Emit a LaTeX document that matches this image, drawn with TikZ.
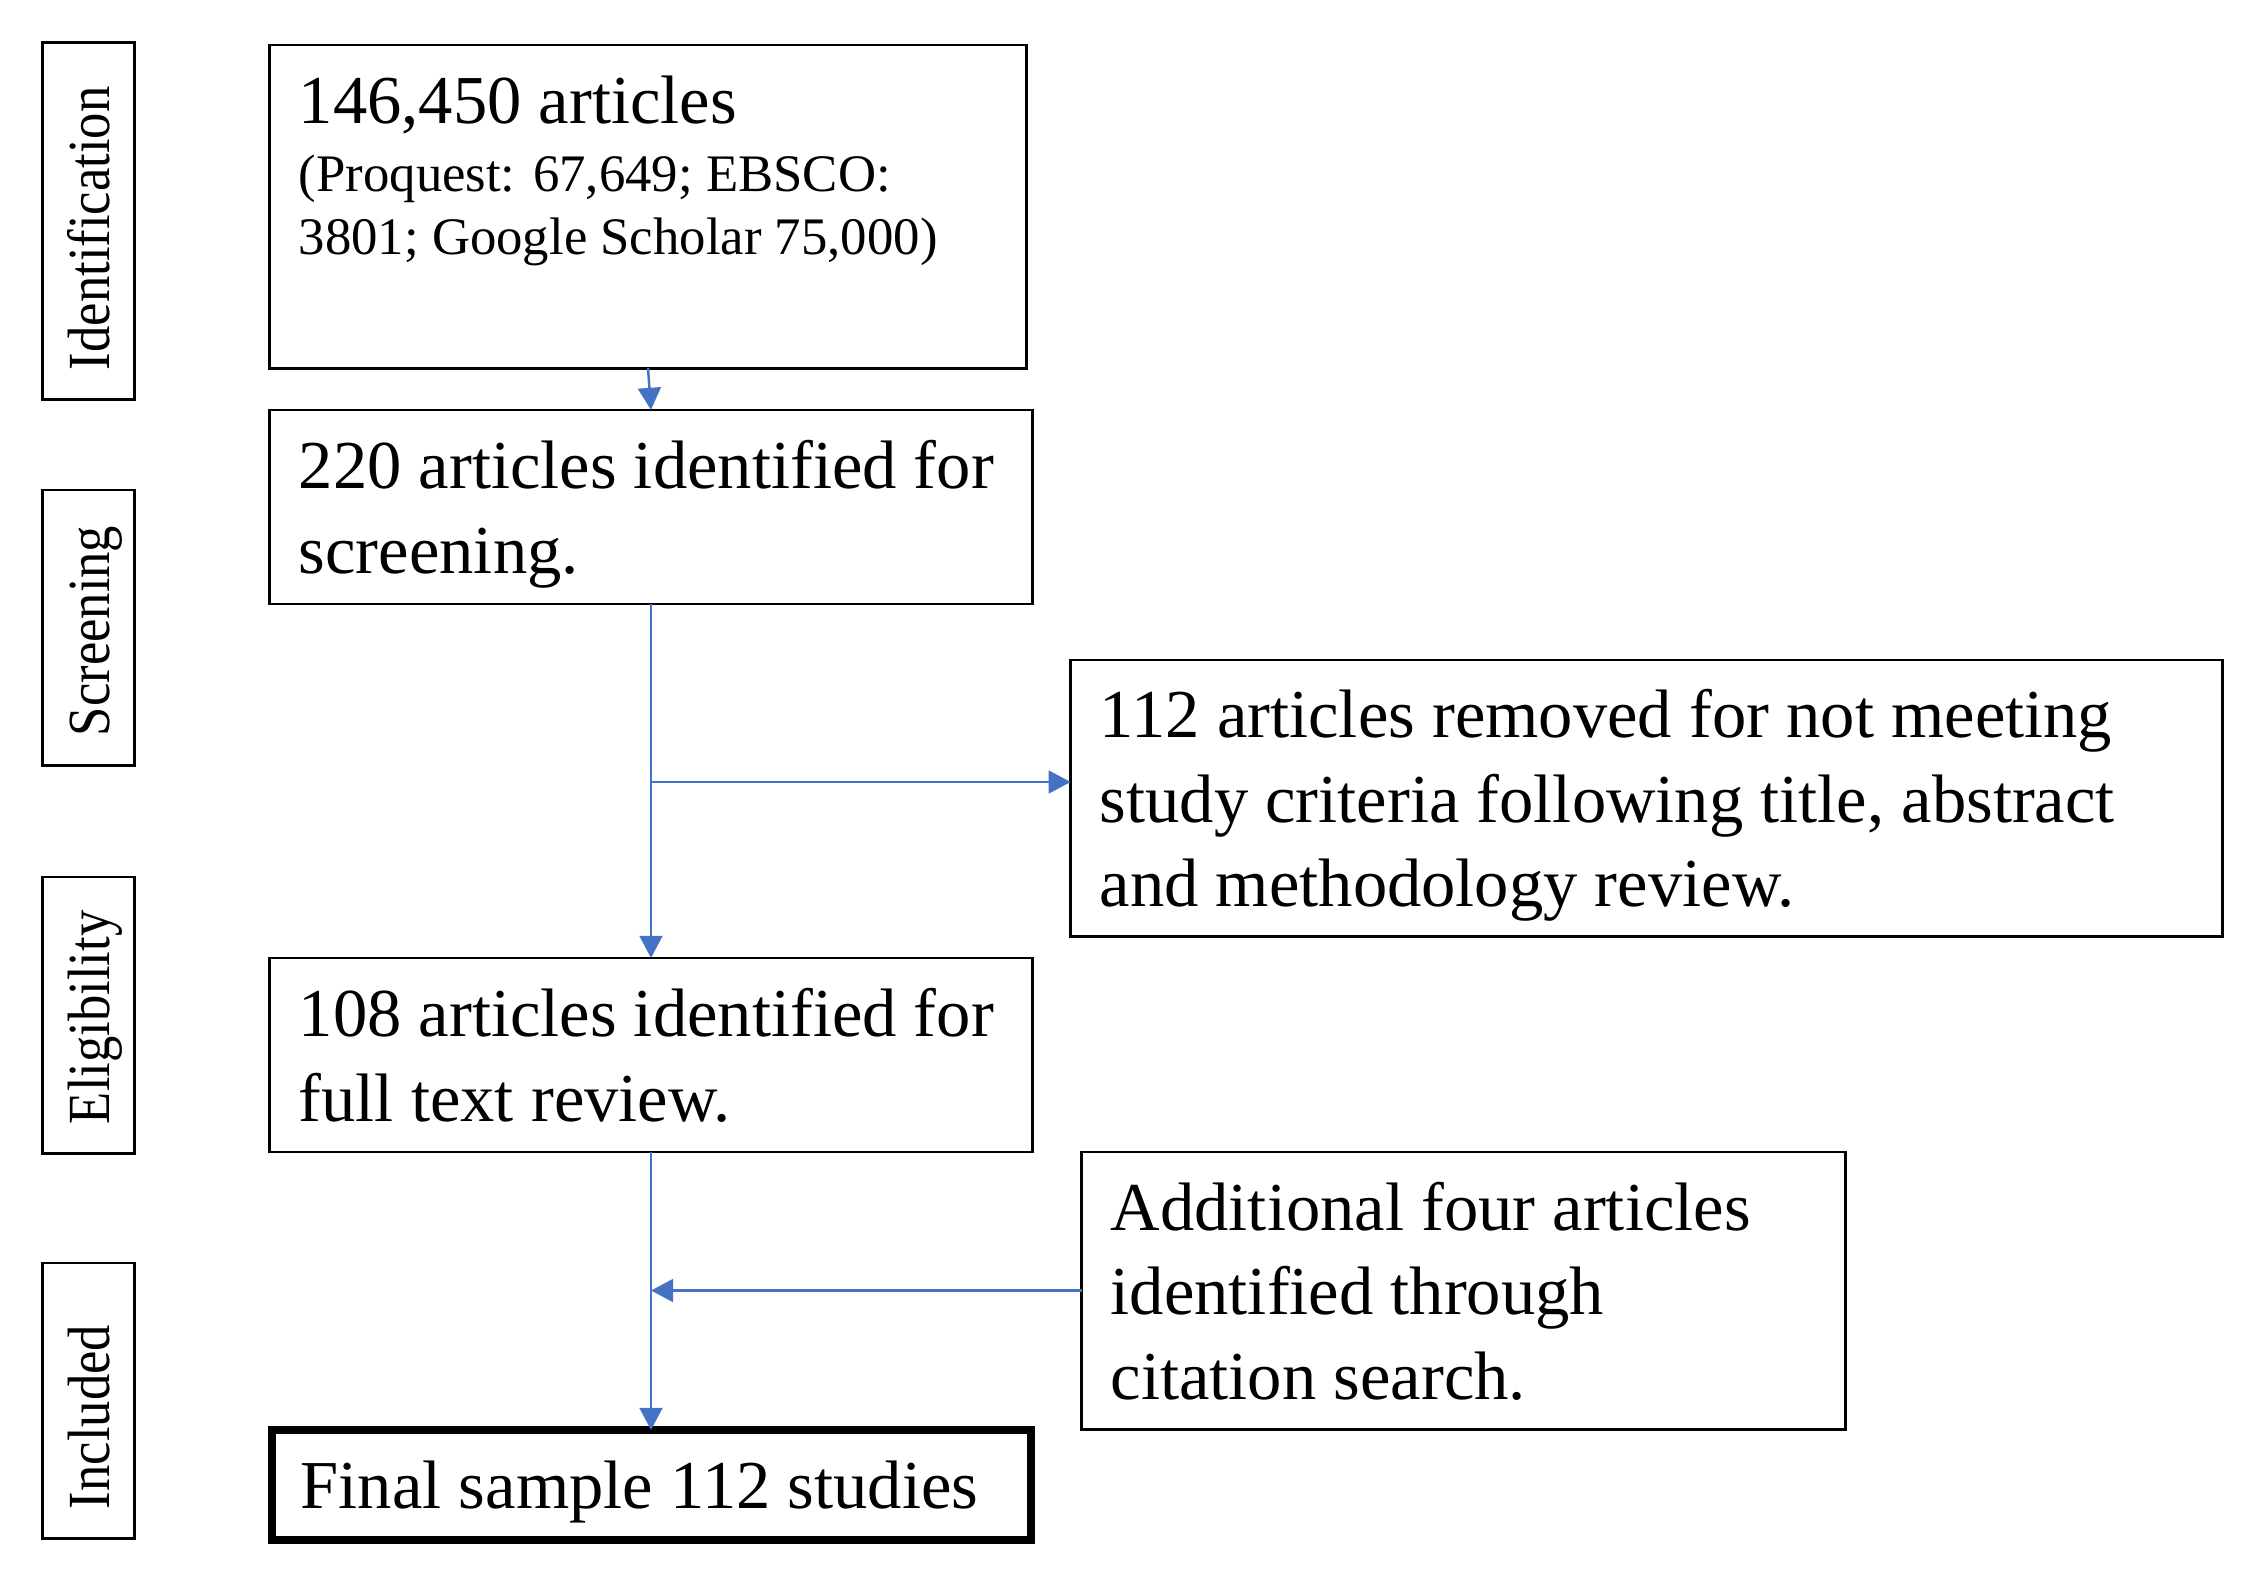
\documentclass[tikz,border=0pt]{standalone}
\usepackage{fontspec}
\setmainfont{Liberation Serif}
\newfontfamily{\stagefont}[FakeStretch = 0.88]{Liberation Serif}
\usetikzlibrary{arrows.meta}
\newcommand{\bigtxt}{\fontsize{19.5pt}{24pt}\selectfont}
\newcommand{\smalltxt}{\fontsize{15pt}{18pt}\selectfont}
\newcommand{\stagetxt}{\stagefont\fontsize{17pt}{19pt}\selectfont}
\definecolor{arrowblue}{HTML}{4472C4}

\begin{document}
\begin{tikzpicture}[x = 0.01cm, y = -0.01cm,
        box/.style = {draw, line width = 0.8pt, inner xsep = 0.29cm, inner ysep = 0pt, outer sep = 0pt, align = flush left, font = \bigtxt},
        stage/.style = {draw, line width = 0.8pt, rotate = 90, inner xsep = 0.29cm, inner ysep = 0pt, outer sep = 0pt, minimum height = 0.92cm, align = flush left, text height = 12pt, text depth = 0pt, font = \stagetxt},
        flow/.style = {arrowblue, line width = 0.7pt, -{Triangle[length = 6.3pt, width = 6.5pt]}}]
        \useasboundingbox (0, 0) rectangle (2266, 1578);
        \node[stage, text width = 2.98cm] (ident) at (88.5, 221) {Identification};
        \node[stage, text width = 2.17cm] (screen) at (88.5, 627.5) {Screening};
        \node[stage, text width = 2.18cm] (elig) at (88.5, 1015) {Eligibility};
        \node[stage, text width = 2.17cm] (incl) at (88.5, 1400.5) {Included};
        \node[box, inner ysep = 0.31cm] (b1) at (648, 206.5) {\parbox[t][2.61cm][t]{6.98cm}{146,450 articles\\[1.3pt] \smalltxt (Proquest: 67,649; EBSCO:\\ 3801; Google Scholar 75,000)}};
        \node[box, text width = 7.04cm, minimum height = 1.94cm, text depth = 24pt] (b2) at (651, 507) {220 articles identified for\\ screening.};
        \node[box, text width = 10.93cm, minimum height = 2.76cm, text depth = 48pt] (rm) at (1646.5, 798) {112 articles removed for not meeting\\ study criteria following title, abstract\\ and methodology review.};
        \node[box, text width = 7.04cm, minimum height = 1.94cm, text depth = 24pt] (b3) at (651, 1055) {108 articles identified for\\ full text review.};
        \node[box, text width = 7.05cm, minimum height = 2.77cm, text depth = 48pt] (add) at (1463.5, 1290.5) {Additional four articles\\ identified through\\ citation search.};
        \node[box, line width = 2.4pt, text width = 7.01cm, minimum height = 1.10cm, text depth = 0pt] (fin) at (651.5, 1485) {Final sample 112 studies};
        \coordinate (split) at (b2.south |- 0, 782);
        \draw[flow] (b1.south) -- (b2.north);
        \draw[flow] (b2.south) -- (b3.north);
        \draw[flow] (split) -- (split -| rm.west);
        \draw[flow] (b3.south) -- (b3.south |- fin.north);
        \draw[flow] (add.west) -- (add.west -| b3.south);
    \end{tikzpicture}
\end{document}
